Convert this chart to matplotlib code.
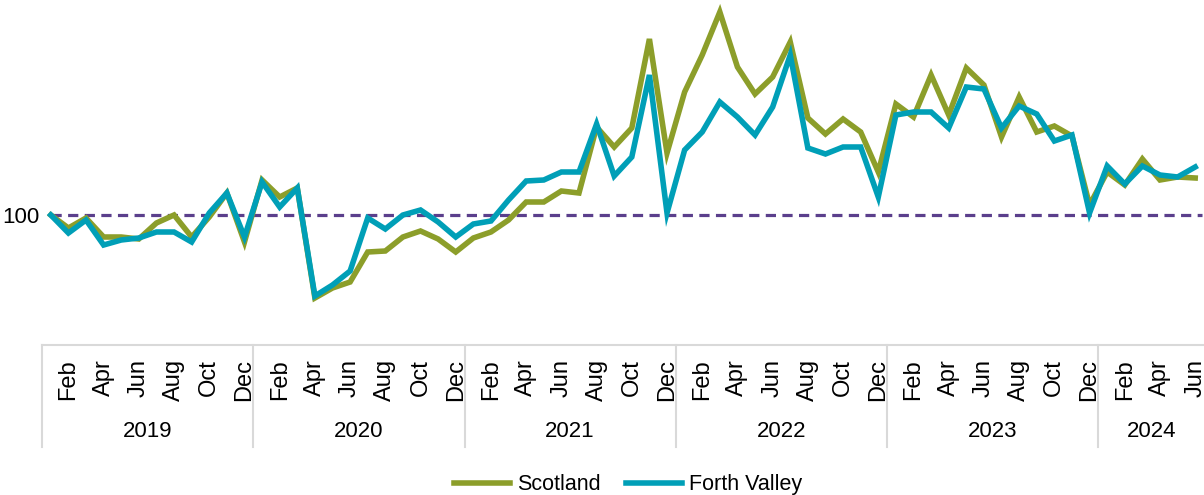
"""
Monthly index (Jan 2019 = 100): Scotland vs Forth Valley
"""

import matplotlib.pyplot as plt
from matplotlib.transforms import blended_transform_factory


# -----------------------------
# Data
# -----------------------------

YEARS = ["2019", "2020", "2021", "2022", "2023", "2024"]
MONTHS = ["Jan", "Feb", "Mar", "Apr", "May", "Jun",
          "Jul", "Aug", "Sep", "Oct", "Nov", "Dec"]
MONTHS_IN_LAST_YEAR = 6

BASELINE = 100

scotland = [
    100, 93.5, 98.5, 89, 89, 88, 96, 100, 89, 99, 111, 86.5,
    117.5, 109, 113.5, 58.5, 63.5, 66.5, 81.5, 82, 89, 92, 88, 81.5,
    88.5, 91.5, 97.5, 106.5, 106.5, 112, 111, 144, 134, 143.5, 188, 131,
    161.5, 180, 201.5, 174, 160.5, 169, 186.5, 148.5, 140.5, 148, 141.5, 121.5,
    155.5, 149, 170, 150, 173.5, 165, 139, 159, 141.5, 144.5, 139.5, 105,
    121.5, 115, 128, 117.5, 119, 118.5,
]

forth_valley = [
    100, 91, 97.5, 85, 87.5, 88.5, 91.5, 91.5, 86.5, 101, 111, 89,
    116.5, 104, 113.5, 59.5, 65, 72, 98.5, 93, 100, 102.5, 96.5, 89,
    95.5, 97, 107.5, 117, 117.5, 121.5, 121.5, 145.5, 119.5, 129, 170, 101,
    132.5, 141.5, 156.5, 149, 140, 154, 180, 133.5, 130.5, 134, 134, 109,
    150, 151.5, 151.5, 143.5, 164, 163, 143.5, 154.5, 150.5, 137, 140, 101,
    124.5, 115.5, 124.5, 120, 119, 124,
]

SCOTLAND_COLOR = "#8C9E2A"
FORTH_COLOR = "#009FB7"
BASELINE_COLOR = "#5B3F8C"
AXIS_COLOR = "#D9D9D9"


# -----------------------------
# Plot
# -----------------------------

def build_month_labels():
    """
    Month name for every point, with only even months shown (Feb, Apr ...).
    """
    labels = []
    for y, _ in enumerate(YEARS):
        n = MONTHS_IN_LAST_YEAR if y == len(YEARS) - 1 else 12
        labels.extend(MONTHS[:n])
    return labels


def main():
    plt.rcParams["font.family"] = ["Liberation Sans", "DejaVu Sans"]

    months = build_month_labels()
    x = list(range(len(months)))

    fig = plt.figure(figsize=(12.04, 4.95), dpi=100)
    ax = fig.add_axes([42 / 1204, 150 / 495, 1162 / 1204, 345 / 495])

    ax.hlines(BASELINE, 0, len(x) - 0.6, colors=BASELINE_COLOR,
              linestyles=(0, (3.2, 2.0)), linewidth=2.3, zorder=1)
    ax.plot(x, scotland, color=SCOTLAND_COLOR, linewidth=4,
            label="Scotland", zorder=2, solid_joinstyle="miter")
    ax.plot(x, forth_valley, color=FORTH_COLOR, linewidth=4,
            label="Forth Valley", zorder=3, solid_joinstyle="miter")

    ax.set_xlim(-0.5, len(x) - 0.5)
    ax.set_ylim(35, 207.5)

    # y axis: only the 100 reference
    ax.set_yticks([BASELINE])
    ax.set_yticklabels([str(BASELINE)], fontsize=16)
    ax.tick_params(axis="y", length=0, pad=2)

    # x axis: every other month, rotated
    ticks = [i for i in x if i % 2 == 1]
    ax.set_xticks(ticks)
    ax.set_xticklabels([months[i] for i in ticks], rotation=90, fontsize=17)
    ax.tick_params(axis="x", length=0, pad=10)

    for side in ["top", "right", "left"]:
        ax.spines[side].set_visible(False)
    ax.spines["bottom"].set_color(AXIS_COLOR)
    ax.spines["bottom"].set_linewidth(1.5)

    # year groups with separators
    trans = blended_transform_factory(ax.transData, ax.transAxes)
    start = 0
    for y, year in enumerate(YEARS):
        n = MONTHS_IN_LAST_YEAR if y == len(YEARS) - 1 else 12
        ax.plot([start - 0.5, start - 0.5], [0, -0.296], transform=trans,
                color=AXIS_COLOR, linewidth=1.5, clip_on=False)
        ax.text(start + (n - 1) / 2, -0.252, year, transform=trans,
                ha="center", va="center", fontsize=16)
        start += n

    fig.legend(loc="lower center", bbox_to_anchor=(628 / 1204, -0.04),
               ncol=2, frameon=False, fontsize=15.5, handlelength=2.6,
               handletextpad=0.3, columnspacing=1.2)

    fig.savefig("out.png", dpi=100)


if __name__ == "__main__":
    main()
